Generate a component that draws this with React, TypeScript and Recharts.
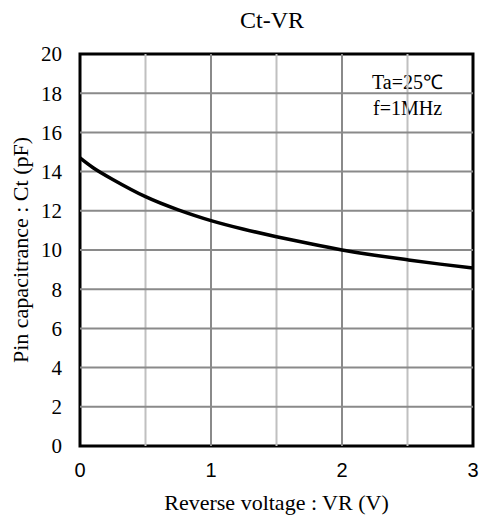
import { LineChart, Line, XAxis, YAxis, ReferenceLine, ReferenceArea } from "recharts";

// Ct-VR curve
const voltage = [0, 0.1, 0.25, 0.5, 0.75, 1, 1.25, 1.5, 1.75, 2, 2.25, 2.5, 2.75, 3];
const capacitance = [14.7, 14.2, 13.6, 12.72, 12.05, 11.5, 11.06, 10.68, 10.33, 10.0, 9.73, 9.5, 9.28, 9.08];

const xTicks = [0, 1, 2, 3];
const yTicks = [0, 2, 4, 6, 8, 10, 12, 14, 16, 18, 20];
const majorVerticals = [1, 2];
const minorVerticals = [0.5, 1.5, 2.5];
const horizontals = [2, 4, 6, 8, 10, 12, 14, 16, 18];
const noteLines = ["Ta=25℃", "f=1MHz"];

const data = voltage.map((v, i) => ({ v, ct: capacitance[i] }));

const serif = '"Liberation Serif", "Times New Roman", serif';
const sans = '"Liberation Sans", Arial, sans-serif';

function XTick(props: any) {
  const { x, y, payload } = props;
  return (
    <text x={x} y={y} dy="0.71em" textAnchor="middle" fill="#000" style={{ fontFamily: sans, fontSize: 20 }}>
      {payload.value}
    </text>
  );
}

function YTick(props: any) {
  const { x, y, payload } = props;
  return (
    <text x={x} y={y} dy="0.35em" textAnchor="end" fill="#000" style={{ fontFamily: serif, fontSize: 21 }}>
      {payload.value}
    </text>
  );
}

function NoteLabel(props: any) {
  const { x, y, width, height } = props.viewBox;
  const cx = x + width / 2;
  const cy = y + height / 2;
  return (
    <g style={{ fontFamily: serif, fontSize: 20 }}>
      <text x={cx} y={cy - 6} textAnchor="middle" fill="#000">
        {noteLines[0]}
      </text>
      <text x={cx} y={cy + 20} textAnchor="middle" fill="#000">
        {noteLines[1]}
      </text>
    </g>
  );
}

function YLabel(props: any) {
  const { y, height } = props.viewBox;
  const lx = 28;
  const ly = y + height / 2;
  return (
    <text
      x={lx}
      y={ly}
      transform={`rotate(-90 ${lx} ${ly})`}
      textAnchor="middle"
      style={{ fontFamily: serif, fontSize: 22 }}
      fill="#000"
    >
      Pin capacitrance : Ct (pF)
    </text>
  );
}

export default function App() {
  return (
    <div style={{ position: "relative", width: 480, height: 521, background: "#fff" }}>
      <style>{"html,body{margin:0;padding:0;overflow:hidden}"}</style>
      <div
        style={{
          position: "absolute",
          top: 6,
          left: 64,
          width: 416,
          textAlign: "center",
          fontFamily: serif,
          fontSize: 24,
          lineHeight: "28px",
        }}
      >
        Ct-VR
      </div>
      <LineChart
        width={480}
        height={521}
        data={data}
        margin={{ top: 54, right: 7, left: 0, bottom: 0 }}
        style={{ overflow: "visible" }}
      >
        <XAxis
          dataKey="v"
          type="number"
          domain={[0, 3]}
          ticks={xTicks}
          interval={0}
          tickLine={false}
          axisLine={false}
          tickSize={0}
          tickMargin={17}
          height={75}
          tick={<XTick />}
          label={{
            value: "Reverse voltage : VR (V)",
            position: "insideBottom",
            offset: 11,
            fill: "#000",
            fontSize: 22,
            style: { fontFamily: serif, fontSize: 22 },
          }}
        />
        <YAxis
          type="number"
          domain={[0, 20]}
          ticks={yTicks}
          interval={0}
          tickLine={false}
          axisLine={false}
          tickSize={0}
          tickMargin={18}
          width={80}
          tick={<YTick />}
          label={<YLabel />}
        />
        {minorVerticals.map((x) => (
          <ReferenceLine key={`mv${x}`} x={x} stroke="#c0c0c0" strokeWidth={2} />
        ))}
        {majorVerticals.map((x) => (
          <ReferenceLine key={`jv${x}`} x={x} stroke="#8a8a8a" strokeWidth={2} />
        ))}
        {horizontals.map((y) => (
          <ReferenceLine key={`h${y}`} y={y} stroke="#8a8a8a" strokeWidth={2} />
        ))}
        <ReferenceArea
          x1={2.14}
          x2={2.86}
          y1={16.4}
          y2={19.45}
          fill="#fff"
          fillOpacity={1}
          stroke="none"
          label={<NoteLabel />}
        />
        <Line
          dataKey="ct"
          type="natural"
          stroke="#000"
          strokeWidth={3.5}
          dot={false}
          isAnimationActive={false}
        />
        <ReferenceArea x1={0} x2={3} y1={0} y2={20} fill="none" stroke="#000" strokeWidth={3} />
      </LineChart>
    </div>
  );
}
